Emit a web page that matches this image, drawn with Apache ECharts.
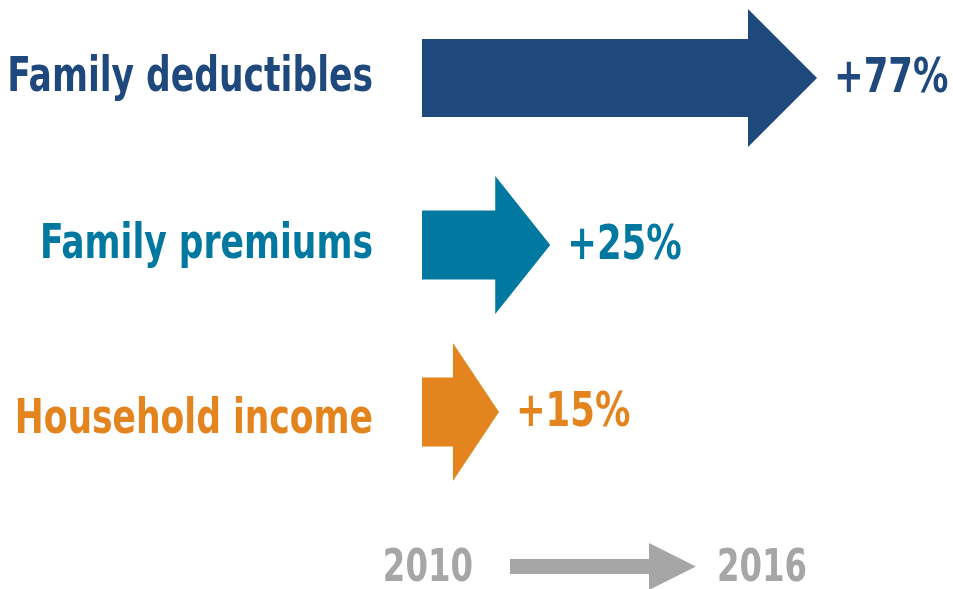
<!DOCTYPE html>
<html><head><meta charset="utf-8">
<script src="https://cdn.jsdelivr.net/npm/echarts@6/dist/echarts.min.js"></script>
<style>html,body{margin:0;padding:0;background:#fff}#c{width:953px;height:589px}</style>
</head><body><div id="c"></div>
<script>
const categories = ['Family deductibles', 'Family premiums', 'Household income'];
const values = [77, 25, 15];
const valueLabels = ['+77%', '+25%', '+15%'];
const yearStart = '2010';
const yearEnd = '2016';

const colors = ['#1F497D', '#0078A0', '#E3841E'];
const bodyH = [78, 69, 69];
const headLen = [69, 55, 46];
const headHalf = 69;
const labelDy = [0, 0, 8];
const FONT = '"DejaVu Sans Condensed", "Liberation Sans Narrow", sans-serif';
const FS = 48;
const SX = 0.8;

const chart = echarts.init(document.getElementById('c'), null, {renderer: 'canvas'});

function txt(x, y, text, color, align, sx, fs) {
  return {type: 'text', x: x, y: y, scaleX: sx, style: {
    text: text, fill: color, font: 'bold ' + (fs || FS) + 'px ' + FONT,
    textAlign: align, textVerticalAlign: 'middle'}};
}

chart.setOption({
  animation: false,
  backgroundColor: '#ffffff',
  grid: {left: 422, right: 18, top: -5.5, height: 501, containLabel: false, outerBoundsMode: 'none'},
  xAxis: {type: 'value', min: 0, max: 100, show: false},
  yAxis: {
    type: 'category', data: categories, inverse: true, show: false
  },
  series: [{
    type: 'custom',
    data: values.map((v, i) => [v, i]),
    encode: {x: 0, y: 1},
    renderItem: (params, api) => {
      const i = params.dataIndex;
      const v = api.value(0);
      const s = api.coord([0, i]);
      const e = api.coord([v, i]);
      const cy = s[1];
      const hl = headLen[i];
      const bh = bodyH[i] / 2;
      const hx = e[0] - hl;
      const pts = [[s[0], cy - bh], [hx, cy - bh], [hx, cy - headHalf], [e[0], cy],
                   [hx, cy + headHalf], [hx, cy + bh], [s[0], cy + bh]];
      return {
        type: 'group',
        children: [
          {type: 'polygon', shape: {points: pts}, style: {fill: colors[i]}},
          txt(e[0] + 17, cy + 2, valueLabels[i], colors[i], 'left', 0.82),
          txt(s[0] - 49, cy + 1 + labelDy[i], categories[i], colors[i], 'right', SX)
        ]
      };
    }
  }],
  graphic: [
    {type: 'polygon', shape: {points: [[510, 559], [649, 559], [649, 543], [696, 566.5], [649, 590], [649, 574], [510, 574]]},
      style: {fill: '#A6A6A6'}},
    txt(473, 569, yearStart, '#A6A6A6', 'right', 0.8, 45),
    txt(717, 569, yearEnd, '#A6A6A6', 'left', 0.8, 45)
  ]
});
</script></body></html>
